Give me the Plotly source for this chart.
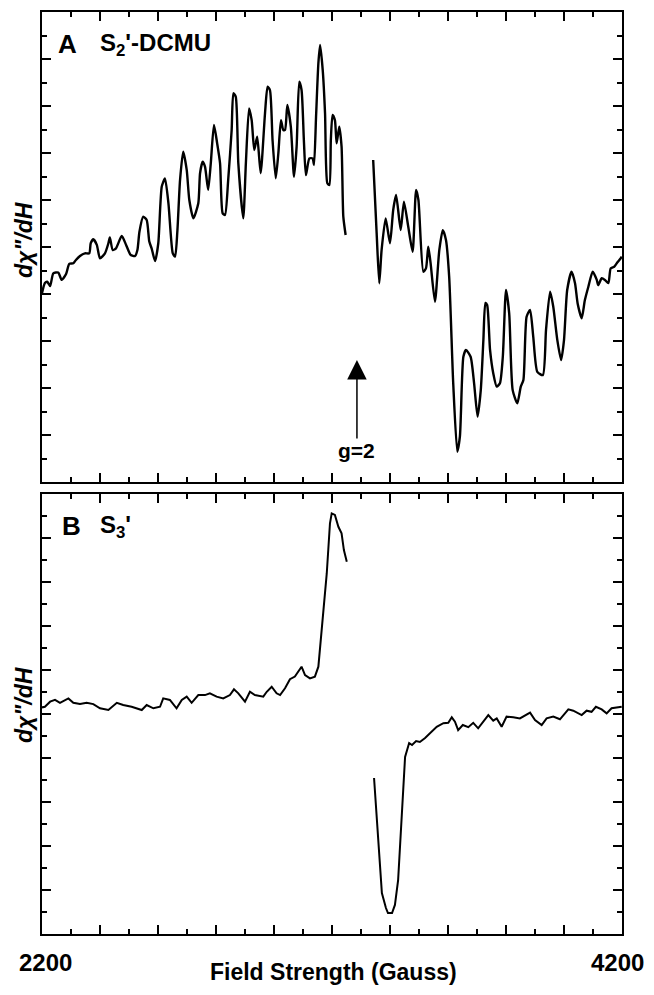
import plotly.graph_objects as go

# ---------------- Panel A : S2'-DCMU (field in Gauss, signal in arbitrary units) ----------------
field_a = [2200, 2210, 2218, 2228, 2239, 2256, 2268, 2283, 2294, 2308, 2317, 2331, 2348, 2363, 2368,
           2377, 2389, 2400, 2417, 2429, 2434, 2444, 2455, 2475, 2490, 2506, 2521, 2529, 2536, 2549,
           2561, 2570, 2578, 2590, 2601, 2613, 2624, 2636, 2651, 2659, 2667, 2676, 2687, 2699, 2708,
           2722, 2739, 2745, 2754, 2762, 2773, 2782, 2793, 2804, 2814, 2823, 2831, 2842, 2854, 2860,
           2868, 2877, 2894, 2903, 2914, 2923, 2932, 2942, 2954, 2969, 2978, 2986, 2995, 3006, 3015,
           3024, 3032, 3038, 3046, 3058, 3069, 3078, 3087, 3095, 3103, 3110, 3122, 3133, 3138, 3145,
           3153, 3159, 3168, 3176, 3184, 3191, 3196, 3202, 3210, 3216, 3225, 3233, 3239, 3247,
           None,
           3342, 3354, 3363, 3371, 3385, 3400, 3411, 3421, 3437, 3448, 3463, 3478, 3490, 3498, 3515,
           3524, 3532, 3540, 3555, 3570, 3582, 3593, 3604, 3618, 3632, 3641, 3653, 3662, 3678, 3690,
           3702, 3713, 3722, 3729, 3735, 3745, 3756, 3768, 3779, 3789, 3800, 3811, 3823, 3839, 3851,
           3860, 3871, 3883, 3894, 3908, 3927, 3938, 3952, 3963, 3977, 3990, 4000, 4011, 4026, 4038,
           4047, 4061, 4072, 4084, 4099, 4113, 4118, 4130, 4141, 4153, 4161, 4173, 4182, 4193, 4199]
signal_a = [8.03, 8.47, 8.52, 8.34, 8.88, 8.91, 8.60, 8.85, 9.28, 9.31, 9.45, 9.62, 9.73, 9.73, 10.16,
            10.33, 10.09, 9.52, 9.73, 10.16, 10.41, 9.87, 9.94, 10.47, 10.09, 9.66, 9.62, 9.87, 10.65, 11.29,
            11.15, 10.23, 9.94, 9.40, 10.16, 12.57, 12.92, 11.86, 9.73, 9.59, 10.72, 12.85, 14.06, 13.28, 12.00,
            11.22, 11.86, 13.14, 13.63, 13.42, 12.43, 13.56, 15.19, 14.41, 13.56, 11.43, 11.36, 12.85, 14.98, 16.54,
            16.40, 13.56, 11.22, 13.56, 15.90, 15.40, 14.13, 14.69, 13.14, 15.69, 16.82, 16.68, 14.55, 12.92, 13.99,
            15.40, 14.98, 14.98, 16.04, 15.12, 12.99, 14.27, 17.03, 16.68, 14.55, 13.06, 13.77, 13.77, 13.49, 15.54,
            17.82, 18.60, 17.53, 15.69, 12.71, 12.64, 14.55, 15.62, 15.40, 14.41, 15.12, 14.27, 11.29, 10.51,
            None,
            13.70, 10.58, 8.46, 9.87, 11.22, 10.16, 11.57, 12.21, 10.72, 11.93, 10.86, 9.80, 12.43, 12.00, 8.95,
            9.09, 10.01, 9.31, 7.67, 9.87, 10.72, 10.30, 8.74, 4.20, 1.29, 1.93, 5.33, 5.62, 5.33, 4.20,
            2.78, 3.91, 6.04, 7.62, 7.53, 5.62, 4.63, 4.06, 4.20, 5.33, 8.17, 7.18, 3.91, 3.35, 4.06,
            4.34, 7.03, 7.32, 6.18, 4.69, 4.55, 6.47, 8.10, 7.46, 6.04, 5.19, 6.04, 8.17, 8.95, 8.46,
            7.60, 6.97, 7.74, 8.31, 8.95, 8.60, 8.38, 8.67, 8.60, 8.46, 9.09, 9.16, 9.31, 9.48, 9.59]

# ---------------- Panel B : S3' ----------------
field_b = [2200, 2210, 2228, 2245, 2262, 2291, 2308, 2331, 2354, 2377, 2400, 2429, 2458, 2480, 2509,
           2544, 2561, 2584, 2607, 2618, 2641, 2664, 2682, 2699, 2716, 2739, 2762, 2779, 2802, 2825,
           2848, 2862, 2877, 2900, 2917, 2934, 2963, 2975, 2992, 3009, 3021, 3038, 3055, 3072, 3095,
           3107, 3124, 3141, 3153, 3164, 3182, 3193, 3199, 3210, 3222, 3233, 3241, 3251,
           None,
           3345, 3372, 3386, 3393, 3407, 3417, 3428, 3452, 3466, 3476, 3490, 3503, 3521, 3538, 3561,
           3584, 3601, 3613, 3624, 3635, 3651, 3670, 3687, 3704, 3722, 3739, 3756, 3768, 3785, 3802,
           3825, 3848, 3883, 3900, 3923, 3940, 3963, 3986, 4015, 4032, 4061, 4078, 4095, 4110, 4130,
           4147, 4164, 4182, 4199]
signal_b = [10.30, 10.33, 10.56, 10.64, 10.51, 10.71, 10.51, 10.45, 10.51, 10.45, 10.26, 10.18, 10.51, 10.41, 10.33,
            10.18, 10.41, 10.26, 10.33, 10.71, 10.64, 10.26, 10.64, 10.79, 10.51, 10.86, 10.86, 10.94, 10.79, 10.71,
            10.86, 11.12, 10.94, 10.56, 11.01, 10.86, 10.79, 11.01, 11.24, 10.94, 10.86, 11.17, 11.58, 11.70, 12.15,
            11.77, 11.62, 11.70, 12.15, 13.82, 16.40, 18.67, 19.12, 19.05, 18.51, 18.21, 17.45, 16.92,
            None,
            7.09, 1.86, 1.18, 0.95, 0.95, 1.32, 2.45, 8.05, 8.68, 8.59, 8.77, 8.73, 8.91, 9.14, 9.42,
            9.58, 9.60, 9.85, 9.65, 9.27, 9.50, 9.40, 9.60, 9.35, 9.65, 9.95, 9.70, 9.80, 9.42, 9.88,
            9.85, 9.80, 10.06, 9.73, 9.50, 9.80, 9.88, 9.76, 10.21, 10.15, 9.95, 10.15, 10.10, 10.33, 10.21,
            10.03, 10.26, 10.30, 10.33]

x_tick_vals = [2200, 2400, 2600, 2800, 3000, 3200, 3400, 3600, 3800, 4000, 4200]
x_end_labels = ["2200", "4200"]
g2_field = 3286
g2_tail, g2_head = 1.79, 5.19

# page is offset by the browser's default 8px body margin; compensate
OFF = 8
W, H = 654 - OFF, 995 - 2 * OFF
x0, x1 = 42, 622
a_top, a_bot = 12, 482
b_top, b_bot = 494, 934

def px(v):
    return (v - OFF) / W

def py(v):
    return 1 - (v - OFF) / H

FONT = "Liberation Sans, Arial, Helvetica, sans-serif"

fig = go.Figure()
fig.add_trace(go.Scatter(x=field_a, y=signal_a, mode="lines", xaxis="x", yaxis="y",
                         line=dict(color="black", width=2.4, shape="spline", smoothing=0.6),
                         connectgaps=False, showlegend=False))
fig.add_trace(go.Scatter(x=field_b, y=signal_b, mode="lines", xaxis="x2", yaxis="y2",
                         line=dict(color="black", width=2.0), connectgaps=False, showlegend=False))

xcommon = dict(range=[2200, 4200], showgrid=False, zeroline=False, showline=True, automargin=False,
               linecolor="black", linewidth=2, mirror="ticks", ticks="inside",
               ticklen=9, tickwidth=2, tickcolor="black", tickmode="array", tickvals=x_tick_vals,
               showticklabels=False,
               minor=dict(ticks="inside", dtick=100, tick0=2200, ticklen=5, tickwidth=1.5,
                          tickcolor="black", showgrid=False))
ycommon = dict(range=[0, 20], showgrid=False, zeroline=False, showline=True, automargin=False,
               linecolor="black", linewidth=2, mirror="ticks", ticks="inside",
               ticklen=9, tickwidth=2, tickcolor="black", tickmode="linear", tick0=0, dtick=2,
               showticklabels=False,
               minor=dict(ticks="inside", dtick=1, tick0=0, ticklen=5, tickwidth=1.5,
                          tickcolor="black", showgrid=False))

fig.update_layout(
    width=W, height=H, margin=dict(l=0, r=0, t=0, b=0, pad=0, autoexpand=False),
    paper_bgcolor="white", plot_bgcolor="white", showlegend=False,
    font=dict(family=FONT, color="black"),
    xaxis=dict(domain=[px(x0), px(x1)], anchor="y", **xcommon),
    yaxis=dict(domain=[py(a_bot), py(a_top)], anchor="x", **ycommon),
    xaxis2=dict(domain=[px(x0), px(x1)], anchor="y2", **xcommon),
    yaxis2=dict(domain=[py(b_bot), py(b_top)], anchor="x2", **ycommon),
)

ann = []
# panel letters and sample names
ann.append(dict(x=px(56), y=py(27), xref="paper", yref="paper", xanchor="left", yanchor="top",
                text="<b>A</b>", showarrow=False, font=dict(size=26)))
ann.append(dict(x=px(98), y=py(27), xref="paper", yref="paper", xanchor="left", yanchor="top",
                text="<b>S<sub>2</sub>'-DCMU</b>", showarrow=False, font=dict(size=24)))
ann.append(dict(x=px(60), y=py(509), xref="paper", yref="paper", xanchor="left", yanchor="top",
                text="<b>B</b>", showarrow=False, font=dict(size=26)))
ann.append(dict(x=px(98), y=py(509), xref="paper", yref="paper", xanchor="left", yanchor="top",
                text="<b>S<sub>3</sub>'</b>", showarrow=False, font=dict(size=24)))
# y-axis labels
for yc in (240, 705):
    ann.append(dict(x=px(24), y=py(yc), xref="paper", yref="paper", xanchor="center", yanchor="middle",
                    text="<b><i>d\u03c7\"/dH</i></b>", showarrow=False, textangle=-90, font=dict(size=23)))
# x end labels (2200 / 4200) and x-axis title
for lab, xc in zip(x_end_labels, (45, 617)):
    ann.append(dict(x=px(xc), y=py(962), xref="paper", yref="paper", xanchor="center", yanchor="middle",
                    text="<b>" + lab + "</b>", showarrow=False, font=dict(size=24)))
ann.append(dict(x=px(333), y=py(972), xref="paper", yref="paper", xanchor="center", yanchor="middle",
                text="<b>Field Strength (Gauss)</b>", showarrow=False, font=dict(size=23)))
# g=2 arrow
ann.append(dict(x=g2_field, y=g2_head, ax=g2_field, ay=g2_tail, xref="x", yref="y", axref="x", ayref="y",
                text="", showarrow=True, arrowhead=2, arrowsize=2.6, arrowwidth=1.5, arrowcolor="black"))
ann.append(dict(x=g2_field, y=g2_tail, xref="x", yref="y", xanchor="center", yanchor="top",
                text="<b>g=2</b>", showarrow=False, font=dict(size=21), yshift=3))
fig.update_layout(annotations=ann)

fig.write_html("out.html")
